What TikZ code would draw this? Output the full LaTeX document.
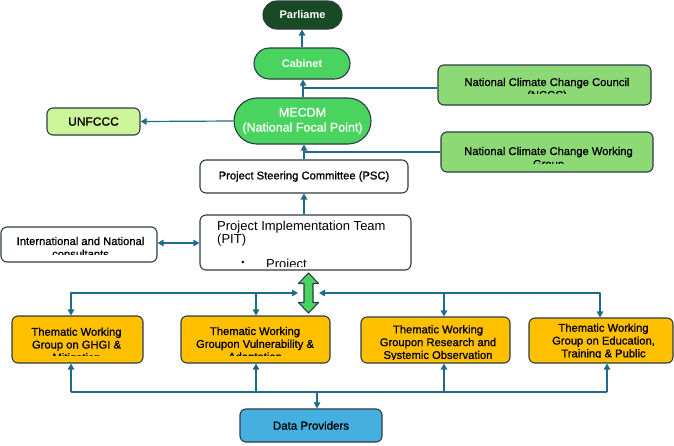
\documentclass[tikz,border=0pt]{standalone}
\usepackage{fontspec}
\setmainfont{Liberation Sans}
\newfontfamily\heavyfont[FakeBold=1]{Liberation Sans}
\usetikzlibrary{arrows.meta,shapes.misc}
\definecolor{parlgreen}{HTML}{184A23}
\definecolor{pillgreen}{HTML}{48D45E}
\definecolor{ncgreen}{HTML}{8DD976}
\definecolor{unyellow}{HTML}{CCF59A}
\definecolor{twgorange}{HTML}{FFC000}
\definecolor{datablue}{HTML}{45B0E0}
\definecolor{linkblue}{HTML}{1F6B8C}
\definecolor{edgegrey}{HTML}{2E3B46}
\begin{document}
\begin{tikzpicture}[x=1pt,y=-1pt,line join=round,>={Triangle[length=6pt,width=6.5pt]},
  box/.style={draw=edgegrey,line width=1.1pt,rounded corners=6pt,inner sep=0pt},
  pill/.style={draw=edgegrey,line width=1.1pt,rounded rectangle,inner sep=0pt,text=white},
  link/.style={draw=linkblue,line width=1.2pt},
  txt/.style={inner sep=0pt,align=center,anchor=base,font=\heavyfont\fontsize{11.2}{12.8}\selectfont},
  pittxt/.style={inner sep=0pt,font=\fontsize{13}{13}\selectfont}]
  \useasboundingbox (0,0) rectangle (674,445);

  \node[pill,fill=parlgreen,minimum width=79pt,minimum height=28pt,font=\bfseries\fontsize{11}{13}\selectfont] (parl) at (302.5,15) {Parliame};
  \node[pill,fill=pillgreen,minimum width=96pt,minimum height=31pt,font=\bfseries\fontsize{11}{13}\selectfont] (cab) at (302,63.5) {Cabinet};
  \node[pill,fill=pillgreen,minimum width=137pt,minimum height=46pt,align=center,font=\heavyfont\fontsize{12.5}{15}\selectfont] (mecdm) at (302.5,121) {MECDM\\(National Focal Point)};
  \node[box,fill=ncgreen,minimum width=213pt,minimum height=40pt] (nccc) at (544.5,85) {};
  \node[box,fill=ncgreen,minimum width=212pt,minimum height=40pt] (nccwg) at (547,152) {};
  \node[box,fill=unyellow,minimum width=93pt,minimum height=27pt,font=\heavyfont\fontsize{12}{14}\selectfont] (unfccc) at (93.5,121.5) {UNFCCC};
  \node[box,fill=white,minimum width=208pt,minimum height=33pt,font=\heavyfont\fontsize{11.2}{13}\selectfont] (psc) at (304,176.5) {Project Steering Committee (PSC)};
  \node[box,fill=white,minimum width=211pt,minimum height=55pt] (pit) at (305.5,242.5) {};
  \node[box,fill=white,minimum width=156pt,minimum height=35pt] (cons) at (79,244.5) {};
  \node[box,fill=twgorange,minimum width=131pt,minimum height=47pt] (ghgi) at (77.5,339.5) {};
  \node[box,fill=twgorange,minimum width=149pt,minimum height=47pt] (vuln) at (255.5,339.5) {};
  \node[box,fill=twgorange,minimum width=149pt,minimum height=46pt] (research) at (435.5,340) {};
  \node[box,fill=twgorange,minimum width=144pt,minimum height=45pt] (edu) at (601,340.5) {};
  \node[box,fill=datablue,minimum width=142pt,minimum height=33pt,font=\heavyfont\fontsize{11.5}{13}\selectfont] (data) at (311,425.5) {Data Providers};

  \begin{scope}
    \clip (438,65) rectangle (651,93);
    \node[txt] (nccctext) at (547,98.8) {National Climate Change Council\\(NCCC)};
  \end{scope}
  \begin{scope}
    \clip (441,132) rectangle (653,163.5);
    \node[txt] (nccwgtext) at (548.5,167.8) {National Climate Change Working\\Group};
  \end{scope}
  \begin{scope}
    \clip (1,227) rectangle (157,254);
    \node[txt] (constext) at (80.5,257.8) {International and National\\consultants};
  \end{scope}
  \begin{scope}
    \clip (200,215) rectangle (411,266.5);
    \node[pittxt,anchor=base west,align=left] (pittext) at (217,243) {Project Implementation Team\\(PIT)};
    \node[pittxt,font=\fontsize{9}{9}\selectfont] (pitbullet) at (243,263) {\textbullet};
    \node[pittxt,anchor=base west] (pitproject) at (266,268.5) {Project};
  \end{scope}
  \begin{scope}
    \clip (12,316) rectangle (143,355);
    \node[txt] (ghgitext) at (76.5,361.3) {Thematic Working\\Group on GHGI \&\\Mitigation};
  \end{scope}
  \begin{scope}
    \clip (181,316) rectangle (330,355.5);
    \node[txt] (vulntext) at (255,360.6) {Thematic Working\\Groupon Vulnerability \&\\Adaptation};
  \end{scope}
  \begin{scope}
    \clip (361,317) rectangle (510,359.5);
    \node[txt] (researchtext) at (438,358.9) {Thematic Working\\Groupon Research and\\Systemic Observation};
  \end{scope}
  \begin{scope}
    \clip (529,318) rectangle (673,357.5);
    \node[txt] (edutext) at (603.5,370.1) {Thematic Working\\Group on Education,\\Training \& Public\\Awareness};
  \end{scope}

  \coordinate (ncjoin) at (303,88);
  \coordinate (topleft) at (71,293);
  \coordinate (topright) at (600,293);
  \coordinate (botleft) at (71,392);
  \coordinate (botright) at (607,392);
  \coordinate (vulnjoin) at (256,293);
  \coordinate (resjoin) at (444,293);
  \coordinate (datajoin) at (317,392);

  \draw[link,->] (cab.north) -- (cab.north |- parl.south);
  \draw[link,->] (ncjoin |- mecdm.north) -- (ncjoin |- cab.south);
  \draw[link] (ncjoin) -- (ncjoin -| nccc.west);
  \draw[link,->] (mecdm.west) -- (unfccc.east);
  \draw[link,->] (psc.north) -- (psc.north |- mecdm.south);
  \draw[link] (nccwg.west) -- (nccwg.west -| psc.north);
  \draw[link,->] (psc.south |- pit.north) -- (psc.south);
  \draw[link,<->] (cons.east |- 0,243) -- (pit.west |- 0,243);

  \filldraw[fill=pillgreen,draw=edgegrey,line width=1.1pt]
    (308.5,273)--(318.5,283.5)--(313,283.5)--(313,302.5)--(318.5,302.5)--(308.5,313)
    --(298.5,302.5)--(304,302.5)--(304,283.5)--(298.5,283.5)--cycle;

  \draw[link,<->] (topleft |- ghgi.north) -- (topleft) -- (298,293);
  \draw[link,<->] (topright |- edu.north) -- (topright) -- (319,293);
  \draw[link,->] (vulnjoin) -- (vulnjoin |- vuln.north);
  \draw[link,->] (resjoin) -- (resjoin |- research.north);

  \draw[link] (botleft) -- (botright);
  \draw[link,->] (botleft) -- (botleft |- ghgi.south);
  \draw[link,->] (vulnjoin |- botleft) -- (vulnjoin |- vuln.south);
  \draw[link,->] (resjoin |- botleft) -- (resjoin |- research.south);
  \draw[link,->] (botright) -- (botright |- edu.south);
  \draw[link,->] (datajoin) -- (datajoin |- data.north);
\end{tikzpicture}
\end{document}
